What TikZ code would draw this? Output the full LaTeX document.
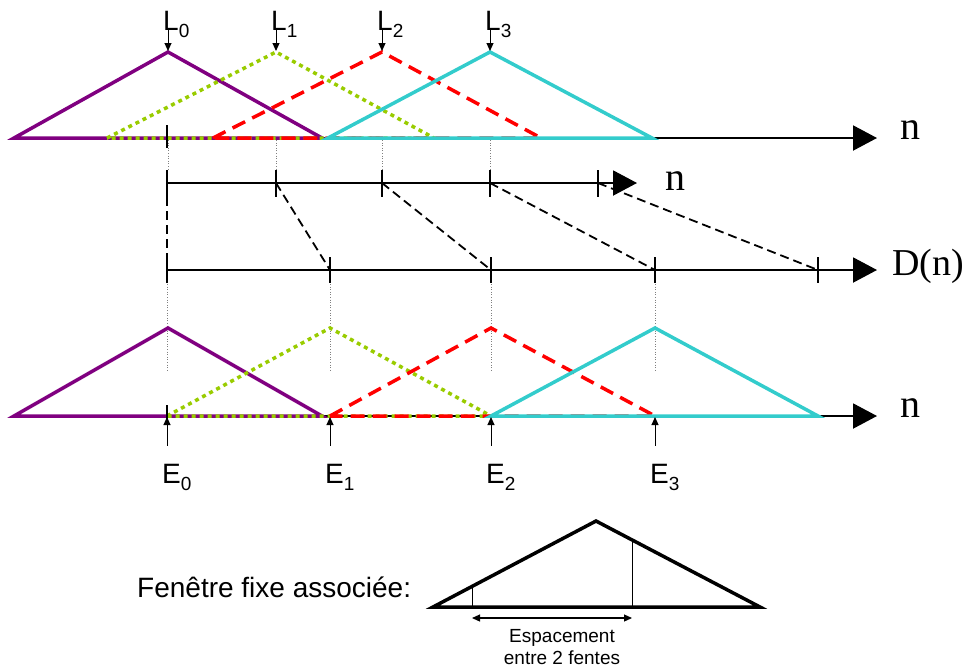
\documentclass[tikz,border=0pt]{standalone}
\usepackage{fontspec}
\setmainfont{Liberation Sans}
\newfontfamily\timesfont{Liberation Serif}
\usetikzlibrary{arrows.meta}

\definecolor{winpurple}{RGB}{128,0,128}
\definecolor{wingreen}{RGB}{153,204,0}
\definecolor{winred}{RGB}{255,0,0}
\definecolor{wincyan}{RGB}{51,204,204}

\newcommand{\idx}[1]{\raisebox{-7pt}{\fontsize{19}{19}\selectfont #1}}

\tikzset{
  axis/.style={line width=2pt, -{Triangle[length=24pt,width=25pt]}},
  tick/.style={line width=2pt},
  guide/.style={gray, line width=0.6pt, dotted},
  link/.style={line width=1.8pt, dash pattern=on 9pt off 5pt},
  pin/.style={line width=1pt, -{Triangle[length=8pt,width=7pt]}},
  win0/.style={winpurple, line width=3.5pt},
  win1/.style={wingreen, line width=3.5pt, dash pattern=on 4pt off 4pt},
  win2/.style={winred, line width=3.5pt, dash pattern=on 14pt off 8pt},
  win3/.style={wincyan, line width=3.5pt},
  lab/.style={font=\fontsize{28}{28}\selectfont, anchor=base west, inner sep=0pt},
  axlab/.style={font=\timesfont\fontsize{40}{40}\selectfont, inner sep=0pt},
}

\begin{document}
\begin{tikzpicture}[x=1pt, y=-1pt]
    \useasboundingbox (0,0) rectangle (965,670);

    % Fenetres glissantes en haut
    \draw[axis] (15,138) -- (877,138);
    \node[axlab] (n1) at (910,130) {n};
    \draw[win0] (14,138) -- (168,52) -- (322,138) -- cycle;
    \draw[win1] (107,138) -- (276,52) -- (434,138) -- cycle;
    \draw[win2] (213,138) -- (382,52) -- (541,138) -- cycle;
    \draw[win3] (328,138) -- (490,52) -- (652,138) -- cycle;
    \draw[tick] (167,125) -- (167,148);

    \foreach \x/\i in {168/0,276/1,382/2,490/3} {
        \coordinate (L\i) at (\x,51);
        \node[lab] (l\i) at (\x-5,30) {L\idx{\i}};
        \draw[pin] (l\i.base -| L\i) -- (L\i);
        \draw[guide] (\x,140) -- (\x,170);
    }

    % Axe des n
    \draw[axis] (167,183) -- (637,183);
    \node[axlab] (n2) at (675,181) {n};
    \foreach \x/\i in {167/0,276/1,382/2,490/3,598/4}
        \draw[tick] (\x,170) coordinate (t\i) -- (\x,197);
    \foreach \i in {0,...,4} \coordinate (a\i) at ([yshift=-13pt]t\i);

    % Axe D(n)
    \draw[axis] (167,270) -- (877,270);
    \node[axlab, font=\timesfont\fontsize{38}{38}\selectfont] (dn) at (928,266) {D(n)};
    \foreach \x/\i in {167/0,330/1,491/2,655/3,818/4} {
        \draw[tick] (\x,257) -- (\x,283);
        \coordinate (d\i) at (\x,270);
    }
    \foreach \i in {0,...,4} \draw[link] (a\i) -- (d\i);
    \foreach \x in {167,330,491,655} \draw[guide] (\x,284) -- (\x,372);

    % Fenetres en bas
    \draw[axis] (15,416) -- (877,416);
    \node[axlab] (n3) at (910,408) {n};
    \draw[win0] (14,416) -- (168,328) -- (322,416) -- cycle;
    \draw[win1] (167,416) -- (330,328) -- (491,416) -- cycle;
    \draw[win2] (330,416) -- (491,328) -- (655,416) -- cycle;
    \draw[win3] (491,416) -- (655,328) -- (818,416) -- cycle;
    \draw[tick] (167,405) -- (167,422);

    \foreach \x/\i in {167/0,330/1,491/2,655/3} {
        \coordinate (E\i) at (\x,417);
        \node[lab] (e\i) at (\x-5,483) {E\idx{\i}};
        \draw[pin] ([yshift=18pt]e\i.north -| E\i) -- (E\i);
    }

    % Fenetre fixe
    \node[lab] (fix) at (137,597) {Fenêtre fixe associée:};
    \coordinate (W0) at (433,607);
    \coordinate (W1) at (596,521);
    \coordinate (W2) at (760,607);
    \draw[line width=3.5pt, line join=miter] (W0) -- (W1) -- (W2) -- cycle;
    \coordinate (s0) at (472,607);
    \coordinate (s1) at (632,607);
    \draw[line width=1pt] (s0) -- (472,586);
    \draw[line width=1pt] (s1) -- (632,540);
    \draw[line width=1.2pt, {Triangle[length=8pt,width=7pt]}-{Triangle[length=8pt,width=7pt]}]
        ([yshift=-11pt]s0) -- ([yshift=-11pt]s1);
    \node[font=\fontsize{19}{22}\selectfont, align=center, inner sep=0pt, anchor=north]
        (esp) at (562,629) {Espacement\\entre 2 fentes};
\end{tikzpicture}
\end{document}
